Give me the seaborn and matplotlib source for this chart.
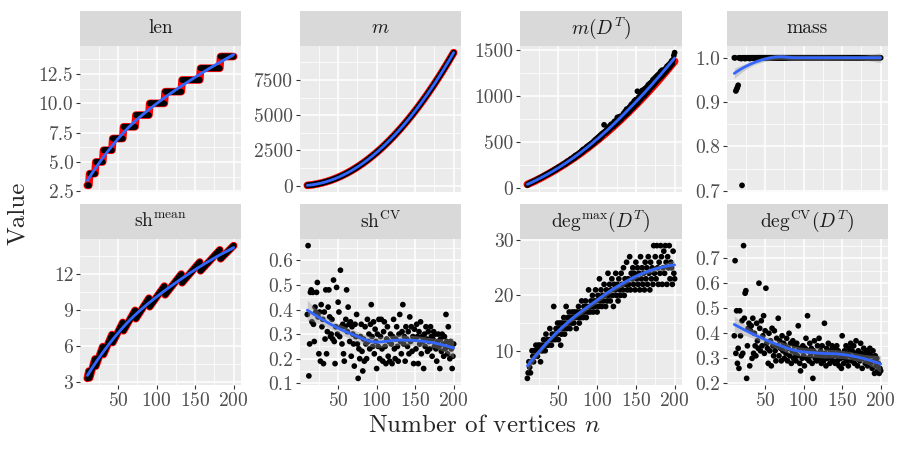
import numpy as np
import pandas as pd
import seaborn as sns
import matplotlib.pyplot as plt
from matplotlib.patches import Rectangle
from matplotlib.ticker import AutoMinorLocator

# number of vertices (x for every panel)
n_vertices = np.arange(10, 201)

# len: step values and how many n each step lasts
len_levels = [3, 4, 5, 6, 7, 8, 9, 10, 11, 12, 13, 14]
len_counts = [3, 8, 10, 12, 14, 16, 18, 20, 22, 24, 26, 18]
len_values = np.repeat(len_levels, len_counts)

m_values = [
    24, 29, 34, 40, 46, 53, 60, 68, 76, 85,
    94, 104, 114, 125, 136, 148, 160, 172, 185, 198,
    212, 227, 242, 257, 273, 289, 306, 323, 341, 359,
    378, 397, 416, 436, 457, 478, 499, 521, 544, 567,
    590, 614, 638, 663, 688, 714, 740, 767, 794, 822,
    850, 878, 907, 937, 967, 997, 1028, 1059, 1091, 1124,
    1156, 1190, 1223, 1258, 1292, 1328, 1363, 1399, 1436, 1473,
    1510, 1548, 1587, 1626, 1665, 1705, 1745, 1786, 1828, 1869,
    1912, 1954, 1998, 2041, 2085, 2130, 2175, 2221, 2267, 2313,
    2360, 2407, 2455, 2504, 2553, 2602, 2652, 2702, 2753, 2804,
    2856, 2908, 2960, 3013, 3067, 3121, 3176, 3231, 3286, 3342,
    3398, 3455, 3513, 3570, 3629, 3688, 3747, 3806, 3867, 3927,
    3988, 4050, 4112, 4175, 4238, 4301, 4365, 4429, 4494, 4560,
    4626, 4692, 4759, 4826, 4894, 4962, 5031, 5100, 5169, 5239,
    5310, 5381, 5453, 5525, 5597, 5670, 5743, 5817, 5892, 5966,
    6042, 6117, 6194, 6270, 6347, 6425, 6503, 6582, 6661, 6740,
    6820, 6901, 6982, 7063, 7145, 7228, 7310, 7394, 7477, 7562,
    7646, 7732, 7817, 7903, 7990, 8077, 8165, 8253, 8341, 8430,
    8520, 8610, 8700, 8791, 8882, 8974, 9066, 9159, 9252, 9346,
    9440,
]

mdt_values = [
    30, 38, 44, 47, 55, 57, 62, 63, 70, 74,
    76, 83, 86, 92, 93, 101, 104, 106, 114, 116,
    123, 124, 133, 134, 142, 143, 152, 150, 161, 162,
    171, 170, 182, 180, 192, 190, 203, 199, 212, 211,
    224, 221, 232, 229, 243, 240, 256, 251, 264, 258,
    278, 272, 291, 283, 298, 297, 314, 305, 322, 316,
    337, 326, 352, 340, 358, 355, 372, 362, 385, 378,
    401, 389, 418, 405, 421, 420, 442, 428, 455, 440,
    468, 452, 480, 470, 492, 478, 510, 495, 526, 512,
    540, 521, 555, 533, 571, 552, 586, 568, 600, 685,
    612, 596, 630, 611, 648, 625, 670, 642, 690, 660,
    695, 668, 720, 686, 730, 702, 765, 715, 770, 732,
    778, 748, 762, 770, 808, 780, 830, 795, 855, 810,
    862, 825, 880, 848, 905, 862, 920, 878, 945, 900,
    960, 912, 1050, 930, 990, 952, 1030, 968, 1058, 990,
    1065, 1002, 1080, 1025, 1095, 1040, 1120, 1062, 1135, 1085,
    1148, 1100, 1175, 1120, 1190, 1140, 1208, 1160, 1225, 1180,
    1240, 1195, 1265, 1212, 1280, 1230, 1262, 1250, 1295, 1268,
    1320, 1290, 1335, 1308, 1352, 1330, 1378, 1350, 1395, 1440,
    1470,
]
# theoretical m(D^T) (red line)
mdt_theory_n = list(range(10, 201, 10))
mdt_theory = [37, 75, 118, 165, 214, 267, 323, 383, 447, 514,
              584, 658, 736, 817, 901, 989, 1080, 1175, 1274, 1376]

mass_values = [
    1.0, 1.0, 0.925, 0.929, 0.933, 0.938, 1.0, 0.999, 1.0, 0.998,
    0.712, 1.0, 0.999, 1.0, 0.998, 1.0, 0.999, 1.0, 0.999, 1.0,
    0.998, 1.0, 1.0, 0.999, 1.0, 1.0, 0.999, 1.0, 1.0, 0.999,
] + [1.0] * 161

# sh^mean rises within each len step, then drops back (one bead per step)
shmean_values = [
    3.33, 3.63, 3.93,
    3.37, 3.59, 3.82, 4.04, 4.27, 4.49, 4.72, 4.94,
    4.34, 4.52, 4.70, 4.88, 5.06, 5.24, 5.42, 5.60, 5.78, 5.96,
    5.31, 5.46, 5.61, 5.76, 5.91, 6.06, 6.21, 6.36, 6.51, 6.66, 6.81, 6.96,
    6.30, 6.43, 6.55, 6.68, 6.81, 6.94, 7.07, 7.20, 7.33, 7.45, 7.58, 7.71, 7.84, 7.97,
    7.28, 7.40, 7.51, 7.62, 7.73, 7.85, 7.96, 8.07, 8.18, 8.30, 8.41, 8.52, 8.63, 8.75,
    8.86, 8.97,
    8.28, 8.38, 8.48, 8.58, 8.68, 8.78, 8.88, 8.98, 9.08, 9.18, 9.28, 9.38, 9.48, 9.58,
    9.68, 9.78, 9.88, 9.98,
    9.27, 9.36, 9.45, 9.54, 9.63, 9.72, 9.81, 9.90, 9.99, 10.08, 10.17, 10.26, 10.35,
    10.44, 10.53, 10.62, 10.71, 10.80, 10.89, 10.98,
    10.26, 10.34, 10.42, 10.51, 10.59, 10.67, 10.75, 10.83, 10.92, 11.00, 11.08, 11.16,
    11.24, 11.32, 11.41, 11.49, 11.57, 11.65, 11.73, 11.82, 11.90, 11.98,
    11.26, 11.33, 11.41, 11.48, 11.56, 11.63, 11.71, 11.78, 11.86, 11.93, 12.01, 12.08,
    12.16, 12.23, 12.31, 12.38, 12.46, 12.53, 12.61, 12.68, 12.76, 12.83, 12.91, 12.98,
    12.25, 12.32, 12.39, 12.46, 12.53, 12.60, 12.67, 12.74, 12.81, 12.87, 12.94, 13.01,
    13.08, 13.15, 13.22, 13.29, 13.36, 13.43, 13.50, 13.57, 13.64, 13.71, 13.78, 13.85,
    13.92, 13.99,
    13.25, 13.31, 13.38, 13.44, 13.51, 13.57, 13.64, 13.70, 13.76, 13.83, 13.89, 13.96,
    14.02, 14.09, 14.15, 14.22, 14.28, 14.34,
]

shcv_values = [
    0.38, 0.66, 0.13, 0.26, 0.47, 0.48, 0.35, 0.47, 0.34, 0.27,
    0.41, 0.39, 0.47, 0.51, 0.37, 0.22, 0.39, 0.19, 0.42, 0.33,
    0.36, 0.18, 0.39, 0.28, 0.48, 0.22, 0.31, 0.41, 0.48, 0.37,
    0.29, 0.30, 0.36, 0.28, 0.52, 0.27, 0.18, 0.33, 0.49, 0.30,
    0.43, 0.39, 0.29, 0.56, 0.33, 0.26, 0.34, 0.22, 0.19, 0.33,
    0.36, 0.48, 0.31, 0.41, 0.34, 0.27, 0.35, 0.21, 0.33, 0.30,
    0.26, 0.17, 0.34, 0.29, 0.38, 0.26, 0.12, 0.24, 0.20, 0.29,
    0.34, 0.23, 0.15, 0.28, 0.19, 0.33, 0.26, 0.20, 0.36, 0.27,
    0.30, 0.24, 0.34, 0.42, 0.29, 0.25, 0.35, 0.22, 0.32, 0.27,
    0.16, 0.30, 0.25, 0.36, 0.20, 0.29, 0.36, 0.24, 0.19, 0.31,
    0.35, 0.25, 0.18, 0.28, 0.33, 0.21, 0.27, 0.19, 0.30, 0.26,
    0.18, 0.29, 0.36, 0.24, 0.20, 0.28, 0.33, 0.25, 0.19, 0.30,
    0.38, 0.27, 0.22, 0.31, 0.42, 0.26, 0.29, 0.19, 0.33, 0.28,
    0.25, 0.31, 0.22, 0.37, 0.27, 0.33, 0.23, 0.29, 0.18, 0.32,
    0.28, 0.24, 0.34, 0.29, 0.18, 0.31, 0.26, 0.35, 0.22, 0.29,
    0.27, 0.16, 0.30, 0.25, 0.33, 0.28, 0.23, 0.31, 0.27, 0.24,
    0.33, 0.29, 0.21, 0.28, 0.31, 0.25, 0.30, 0.24, 0.19, 0.27,
    0.30, 0.25, 0.16, 0.28, 0.23, 0.30, 0.26, 0.21, 0.29, 0.24,
    0.38, 0.27, 0.22, 0.33, 0.25, 0.20, 0.27, 0.24, 0.16, 0.21,
    0.26,
]

degmax_values = [
    5, 6, 8, 7, 6, 8, 10, 9, 8, 10,
    9, 11, 10, 9, 11, 10, 11, 8, 10, 11,
    10, 12, 11, 10, 13, 11, 12, 11, 12, 14,
    12, 11, 13, 12, 18, 13, 12, 14, 13, 15,
    12, 14, 15, 11, 13, 15, 14, 16, 13, 15,
    18, 14, 16, 15, 17, 14, 16, 15, 17, 16,
    15, 17, 16, 14, 17, 16, 18, 15, 17, 16,
    19, 17, 16, 18, 17, 19, 16, 18, 17, 21,
    18, 17, 19, 18, 20, 17, 19, 18, 21, 19,
    17, 20, 18, 23, 19, 21, 18, 20, 19, 22,
    20, 18, 21, 19, 24, 20, 22, 19, 21, 23,
    20, 18, 22, 21, 24, 20, 22, 19, 23, 21,
    20, 24, 22, 21, 25, 20, 23, 22, 26, 21,
    23, 22, 27, 21, 24, 23, 25, 22, 24, 21,
    26, 23, 25, 22, 24, 21, 27, 23, 25, 22,
    24, 21, 26, 23, 25, 22, 27, 24, 21, 26,
    23, 25, 22, 29, 24, 27, 23, 29, 25, 22,
    26, 24, 29, 27, 22, 25, 28, 24, 29, 26,
    22, 27, 25, 29, 23, 26, 25, 22, 28, 24,
    23,
]

degcv_values = [
    0.39, 0.69, 0.32, 0.49, 0.28, 0.34, 0.26, 0.49, 0.39, 0.31,
    0.45, 0.32, 0.75, 0.46, 0.56, 0.57, 0.22, 0.35, 0.42, 0.44,
    0.27, 0.41, 0.43, 0.30, 0.46, 0.32, 0.40, 0.35, 0.31, 0.44,
    0.37, 0.34, 0.60, 0.42, 0.33, 0.45, 0.35, 0.39, 0.47, 0.32,
    0.41, 0.58, 0.36, 0.34, 0.28, 0.40, 0.33, 0.37, 0.27, 0.42,
    0.35, 0.31, 0.41, 0.33, 0.29, 0.38, 0.35, 0.46, 0.31, 0.37,
    0.34, 0.29, 0.39, 0.33, 0.36, 0.30, 0.35, 0.32, 0.38, 0.29,
    0.34, 0.40, 0.31, 0.36, 0.28, 0.33, 0.37, 0.30, 0.35, 0.32,
    0.29, 0.36, 0.31, 0.43, 0.34, 0.28, 0.25, 0.33, 0.30, 0.35,
    0.31, 0.27, 0.34, 0.38, 0.30, 0.47, 0.33, 0.29, 0.36, 0.31,
    0.34, 0.28, 0.22, 0.33, 0.37, 0.30, 0.32, 0.29, 0.35, 0.31,
    0.38, 0.30, 0.33, 0.28, 0.35, 0.31, 0.29, 0.44, 0.32, 0.27,
    0.34, 0.30, 0.36, 0.31, 0.28, 0.33, 0.30, 0.35, 0.29, 0.32,
    0.34, 0.28, 0.31, 0.35, 0.29, 0.33, 0.27, 0.32, 0.30, 0.26,
    0.39, 0.31, 0.28, 0.33, 0.30, 0.35, 0.29, 0.32, 0.27, 0.34,
    0.31, 0.36, 0.29, 0.33, 0.30, 0.35, 0.28, 0.32, 0.37, 0.30,
    0.27, 0.33, 0.31, 0.29, 0.36, 0.32, 0.26, 0.30, 0.34, 0.31,
    0.28, 0.33, 0.30, 0.27, 0.32, 0.29, 0.34, 0.28, 0.31, 0.26,
    0.33, 0.29, 0.24, 0.31, 0.27, 0.30, 0.25, 0.28, 0.24, 0.26,
    0.25,
]

panel_keys = ['len', 'm', 'mdt', 'mass', 'shmean', 'shcv', 'degmax', 'degcv']
panel_titles = ['len', '$m$', '$m(D^T)$', 'mass',
                r'$\mathrm{sh}^{\mathrm{mean}}$', r'$\mathrm{sh}^{\mathrm{CV}}$',
                r'$\mathrm{deg}^{\mathrm{max}}(D^T)$', r'$\mathrm{deg}^{\mathrm{CV}}(D^T)$']
panel_values = [len_values, m_values, mdt_values, mass_values,
                shmean_values, shcv_values, degmax_values, degcv_values]

y_ticks = {
    'len': ([2.5, 5, 7.5, 10, 12.5], ['2.5', '5.0', '7.5', '10.0', '12.5']),
    'm': ([0, 2500, 5000, 7500], ['0', '2500', '5000', '7500']),
    'mdt': ([0, 500, 1000, 1500], ['0', '500', '1000', '1500']),
    'mass': ([0.7, 0.8, 0.9, 1.0], ['0.7', '0.8', '0.9', '1.0']),
    'shmean': ([3, 6, 9, 12], ['3', '6', '9', '12']),
    'shcv': ([0.1, 0.2, 0.3, 0.4, 0.5, 0.6], ['0.1', '0.2', '0.3', '0.4', '0.5', '0.6']),
    'degmax': ([10, 20, 30], ['10', '20', '30']),
    'degcv': ([0.2, 0.3, 0.4, 0.5, 0.6, 0.7], ['0.2', '0.3', '0.4', '0.5', '0.6', '0.7']),
}
x_ticks = [50, 100, 150, 200]

# red "theory" lines (x, y, group)
theory = {
    'len': (n_vertices, len_values, None),
    'm': (n_vertices, m_values, None),
    'mdt': (mdt_theory_n, mdt_theory, None),
    'shmean': (n_vertices, shmean_values, len_values),
}


def loess_band(x, y, span=0.75):
    # local quadratic fit with tricube weights, like geom_smooth's loess
    x = np.asarray(x, float)
    y = np.asarray(y, float)
    n = len(x)
    q = int(np.floor(n * span))
    L = np.empty((n, n))
    for i, x0 in enumerate(x):
        d = np.abs(x - x0)
        h = np.sort(d)[q - 1]
        w = np.clip(1 - (d / h) ** 3, 0, None) ** 3
        X = np.column_stack([np.ones(n), x - x0, (x - x0) ** 2])
        XtW = X.T * w
        L[i] = np.linalg.solve(XtW @ X, XtW)[0]
    fit = L @ y
    R = np.eye(n) - L
    delta = np.trace(R.T @ R)
    sigma = np.sqrt(np.sum((y - fit) ** 2) / delta)
    se = sigma * np.sqrt(np.sum(L ** 2, axis=1))
    return fit, fit - 1.97 * se, fit + 1.97 * se


df = pd.concat([pd.DataFrame({'n': n_vertices, 'value': np.asarray(v, float), 'stat': k})
                for k, v in zip(panel_keys, panel_values)], ignore_index=True)

sns.set_theme(style='darkgrid', rc={
    'axes.facecolor': '#EBEBEB',
    'grid.color': 'white',
    'xtick.bottom': True, 'ytick.left': True,
    'xtick.major.size': 2.75, 'ytick.major.size': 2.75,
    'xtick.major.width': 0.8, 'ytick.major.width': 0.8,
    'xtick.color': '#333333', 'ytick.color': '#333333',
    'xtick.labelcolor': '#4D4D4D', 'ytick.labelcolor': '#4D4D4D',
    'xtick.major.pad': 2, 'ytick.major.pad': 2,
})
plt.rcParams['font.family'] = 'cmr10'
plt.rcParams['mathtext.fontset'] = 'cm'
plt.rcParams['axes.formatter.use_mathtext'] = True

g = sns.FacetGrid(df, col='stat', col_order=panel_keys, col_wrap=4,
                  sharey=False, height=2.2, aspect=1.0)
fig = g.figure
fig.set_size_inches(9, 4.5)

col_x = [80, 300, 520, 727]
col_w = [161, 161, 162, 161]
row_bottom = [192, 385]
panel_h = 146
strip_h = 35

for idx, (key, title) in enumerate(zip(panel_keys, panel_titles)):
    ax = g.axes_dict[key]
    r, c = divmod(idx, 4)
    ax.set_position([col_x[c] / 900, 1 - row_bottom[r] / 450, col_w[c] / 900, panel_h / 450])
    sub = df[df['stat'] == key]

    if key in theory:
        tx, ty, grp = theory[key]
        if grp is None:
            sns.lineplot(x=np.asarray(tx), y=np.asarray(ty, float), ax=ax, color='red',
                         lw=5.5, estimator=None, sort=False, zorder=2)
        else:
            sns.lineplot(x=np.asarray(tx), y=np.asarray(ty, float), units=np.asarray(grp),
                         ax=ax, color='red', lw=5.5, estimator=None, sort=False, zorder=2)
    sns.scatterplot(data=sub, x='n', y='value', ax=ax, color='black', s=17,
                    edgecolor='none', linewidth=0, zorder=3)
    fit, lo, hi = loess_band(sub['n'], sub['value'])
    ax.fill_between(sub['n'], lo, hi, color='#999999', alpha=0.4, lw=0, zorder=4)
    sns.lineplot(x=sub['n'].values, y=fit, ax=ax, color='#3366FF', lw=2,
                 estimator=None, sort=False, zorder=5)

    # y range like ggplot: data range + 5% each side
    allv = np.concatenate([sub['value'].values, lo, hi] +
                          ([np.asarray(theory[key][1], float)] if key in theory else []))
    ymin, ymax = allv.min(), allv.max()
    pad = 0.05 * (ymax - ymin)
    ax.set_ylim(ymin - pad, ymax + pad)
    ax.set_xlim(0.5, 209.5)

    ticks, labels = y_ticks[key]
    ax.set_yticks(ticks)
    ax.set_yticklabels(labels, fontsize=14)
    ax.set_xticks(x_ticks)
    ax.xaxis.set_minor_locator(AutoMinorLocator(2))
    ax.yaxis.set_minor_locator(AutoMinorLocator(2))
    ax.grid(which='major', color='white', lw=1.1)
    ax.grid(which='minor', color='white', lw=0.55)
    ax.tick_params(which='minor', length=0)
    if r == 0:
        ax.tick_params(axis='x', which='major', length=0, labelbottom=False)
    else:
        ax.tick_params(axis='x', labelbottom=True, labelsize=14)
    ax.set_xlabel('')
    ax.set_ylabel('')
    ax.set_title('')
    for s in ax.spines.values():
        s.set_visible(False)

    # facet strip
    ax.add_patch(Rectangle((0, 1), 1, strip_h / panel_h, transform=ax.transAxes,
                           facecolor='#D9D9D9', edgecolor='none', clip_on=False))
    ax.text(0.5, 1 + strip_h / panel_h / 2, title, transform=ax.transAxes,
            ha='center', va='center', fontsize=14, color='#1A1A1A')

fig.text(484 / 900, 1 - 426 / 450, 'Number of vertices $n$', ha='center', va='center', fontsize=18)
fig.text(18 / 900, 1 - 213 / 450, 'Value', ha='center', va='center', rotation=90, fontsize=18)

fig.savefig('out.png', dpi=100)
